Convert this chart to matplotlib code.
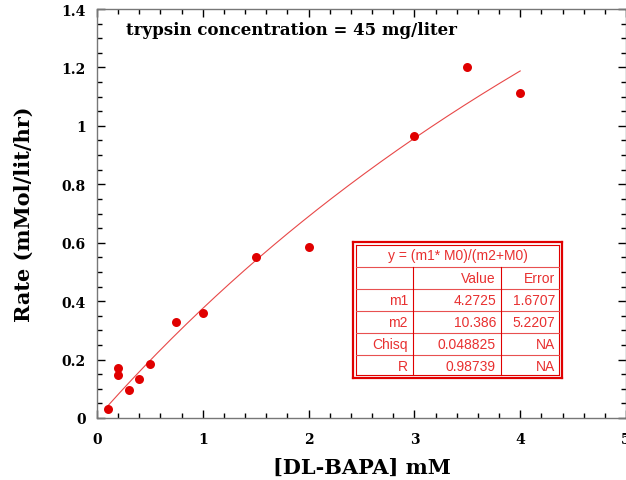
import numpy as np
import matplotlib
matplotlib.use("Agg")
import matplotlib.pyplot as plt
from matplotlib.ticker import MultipleLocator

# measured data
conc = [0.1, 0.2, 0.2, 0.3, 0.4, 0.5, 0.75, 1.0, 1.5, 2.0, 3.0, 3.5, 4.0]
rate = [0.03, 0.17, 0.148, 0.097, 0.134, 0.184, 0.33, 0.36, 0.551, 0.586, 0.965, 1.203, 1.114]

# fit results (y = m1*M0/(m2+M0))
m1 = 4.2725
m2 = 10.386
fit_rows = ["m1", "m2", "Chisq", "R"]
fit_values = ["4.2725", "10.386", "0.048825", "0.98739"]
fit_errors = ["1.6707", "5.2207", "NA", "NA"]

W, H = 626, 481
RED = "#e00000"
serif = "DejaVu Serif"

fig = plt.figure(figsize=(W / 100, H / 100), dpi=100)
ax = fig.add_axes([97 / W, 1 - 419 / H, 529 / W, 409 / H])

ax.scatter(conc, rate, s=42, color=RED, zorder=3, linewidths=0)
xf = np.linspace(min(conc), max(conc), 200)
ax.plot(xf, m1 * xf / (m2 + xf), color="#e84848", lw=0.8, zorder=2)

ax.set_xlim(0, 5)
ax.set_ylim(0, 1.4)
ax.xaxis.set_major_locator(MultipleLocator(1))
ax.xaxis.set_minor_locator(MultipleLocator(0.2))
ax.yaxis.set_major_locator(MultipleLocator(0.2))
ax.yaxis.set_minor_locator(MultipleLocator(0.05))
ax.tick_params(which="both", direction="in", top=True, right=True, color="black", width=1)
ax.tick_params(which="major", length=6)
ax.tick_params(axis="x", which="major", pad=10)
ax.tick_params(axis="y", which="major", pad=8)
ax.tick_params(which="minor", length=3.5)
ax.set_xticks([0, 1, 2, 3, 4, 5], ["0", "1", "2", "3", "4", "5"])
ax.set_yticks([0, 0.2, 0.4, 0.6, 0.8, 1.0, 1.2, 1.4],
              ["0", "0.2", "0.4", "0.6", "0.8", "1", "1.2", "1.4"])
for lab in ax.get_xticklabels() + ax.get_yticklabels():
    lab.set_fontfamily(serif)
    lab.set_fontweight("bold")
    lab.set_fontsize(10)
for sp in ax.spines.values():
    sp.set_color("#777777")
    sp.set_linewidth(1)

ax.set_xlabel("[DL-BAPA] mM", fontfamily=serif, fontweight="bold", fontsize=15, labelpad=8)
ax.set_ylabel("Rate (mMol/lit/hr)", fontfamily=serif, fontweight="bold", fontsize=15, labelpad=20)
ax.text(0.367, 0.951, "trypsin concentration = 45 mg/liter", transform=ax.transAxes,
        ha="center", va="center", fontfamily=serif, fontweight="bold", fontsize=12)


# fit table drawn in figure pixels
def fx(px):
    return px / W


def fy(py):
    return 1 - py / H


def hline(y, x0, x1, lw=1.0, c=RED):
    fig.add_artist(plt.Line2D([fx(x0), fx(x1)], [fy(y), fy(y)], color=c, lw=lw))


def vline(x, y0, y1, lw=1.0, c=RED):
    fig.add_artist(plt.Line2D([fx(x), fx(x)], [fy(y0), fy(y1)], color=c, lw=lw))


fig.add_artist(plt.Rectangle((fx(350), fy(382)), fx(565) - fx(350), fy(240) - fy(382),
                             facecolor="white", edgecolor="none", zorder=1))
L, R, T, B = 353, 562, 243, 379
# outer double frame
for off, lw in [(0, 1.6), (3, 0.8)]:
    hline(T + off, L + off, R - off, lw)
    hline(B - off, L + off, R - off, lw)
    vline(L + off, T + off, B - off, lw)
    vline(R - off, T + off, B - off, lw)

row_lines = [268, 290, 312, 334, 356]
for y in row_lines:
    hline(y, L + 3, R - 3, 0.8, "#e85050")
c1, c2 = 413, 501
vline(c1, 268, B - 3, 0.8)
vline(c2, 268, B - 3, 0.8)

tf = dict(color="#e83030", fontfamily="Liberation Sans", fontsize=10, va="center")
fig.text(fx((L + R) / 2), fy(256), "y = (m1* M0)/(m2+M0)", ha="center", **tf)
fig.text(fx(c2 - 5), fy(279), "Value", ha="right", **tf)
fig.text(fx(R - 7), fy(279), "Error", ha="right", **tf)
centers = [301, 323, 345, 367]
for yc, name, val, err in zip(centers, fit_rows, fit_values, fit_errors):
    fig.text(fx(c1 - 5), fy(yc), name, ha="right", **tf)
    fig.text(fx(c2 - 5), fy(yc), val, ha="right", **tf)
    fig.text(fx(R - 7), fy(yc), err, ha="right", **tf)

fig.savefig("out.png", dpi=100)
